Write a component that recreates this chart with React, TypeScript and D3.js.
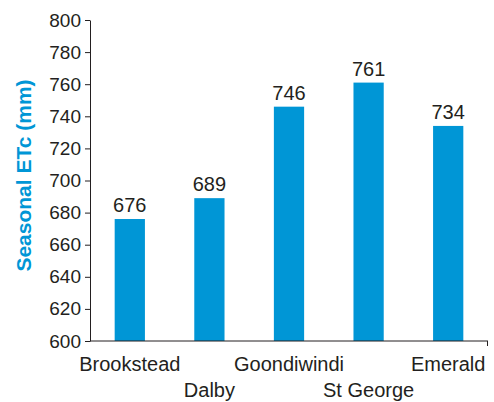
import React, { useRef, useEffect } from 'react';
import * as d3 from 'd3';

const sites = ['Brookstead', 'Dalby', 'Goondiwindi', 'St George', 'Emerald'];
const etcValues = [676, 689, 746, 761, 734];
const yTicks = [600, 620, 640, 660, 680, 700, 720, 740, 760, 780, 800];

const BLUE = '#0096d6';
const INK = '#231f20';
const FONT = '"Liberation Sans", Arial, sans-serif';

const drawChart = (svgEl: SVGSVGElement) => {
    const svg = d3.select(svgEl);
    svg.selectAll('*').remove();

    const margin = { top: 20, right: 6, bottom: 61, left: 90 };
    const width = 494 - margin.left - margin.right;
    const height = 402 - margin.top - margin.bottom;

    const x = d3.scaleBand<string>()
        .domain(sites)
        .range([0, width])
        .paddingInner(0.62)
        .paddingOuter(0.31);

    const y = d3.scaleLinear()
        .domain([600, 800])
        .range([height, 0]);

    const g = svg.append('g')
        .attr('transform', `translate(${margin.left},${margin.top})`);

    // bars
    g.selectAll('.bar')
        .data(etcValues)
        .enter().append('rect')
        .attr('class', 'bar')
        .attr('x', (_, i) => x(sites[i])!)
        .attr('y', d => y(d))
        .attr('width', x.bandwidth())
        .attr('height', d => height - y(d))
        .attr('fill', BLUE);

    // value labels
    g.selectAll('.val')
        .data(etcValues)
        .enter().append('text')
        .attr('class', 'val')
        .attr('x', (_, i) => x(sites[i])! + x.bandwidth() / 2)
        .attr('y', d => y(d) - 7)
        .attr('text-anchor', 'middle')
        .attr('font-family', FONT)
        .attr('font-size', 20)
        .attr('fill', INK)
        .text(d => d);

    // y axis
    const yAxis = g.append('g')
        .call(d3.axisLeft(y).tickValues(yTicks).tickSize(5).tickPadding(4).tickSizeOuter(0));
    yAxis.select('.domain').attr('stroke', INK);
    yAxis.selectAll('.tick line').attr('stroke', INK);
    yAxis.selectAll('.tick text')
        .attr('font-family', FONT)
        .attr('font-size', 19)
        .attr('fill', INK);

    // x axis line with end tick
    g.append('line')
        .attr('x1', 0).attr('x2', width)
        .attr('y1', height).attr('y2', height)
        .attr('stroke', INK);
    g.append('line')
        .attr('x1', width - 0.5).attr('x2', width - 0.5)
        .attr('y1', height).attr('y2', height + 5)
        .attr('stroke', INK);

    // category labels, staggered
    g.selectAll('.cat')
        .data(sites)
        .enter().append('text')
        .attr('class', 'cat')
        .attr('x', d => x(d)! + x.bandwidth() / 2)
        .attr('y', (_, i) => height + (i % 2 === 0 ? 30 : 56))
        .attr('text-anchor', 'middle')
        .attr('font-family', FONT)
        .attr('font-size', 20)
        .attr('fill', INK)
        .text(d => d);

    // y title
    svg.append('text')
        .attr('transform', `translate(31,${margin.top + height / 2 - 5}) rotate(-90)`)
        .attr('text-anchor', 'middle')
        .attr('font-family', FONT)
        .attr('font-weight', 'bold')
        .attr('font-size', 21)
        .attr('fill', BLUE)
        .text('Seasonal ETc (mm)');
};

const App: React.FC = () => {
    const ref = useRef<SVGSVGElement>(null);

    useEffect(() => {
        if (ref.current) drawChart(ref.current);
    }, []);

    return (
        <svg
            ref={ref}
            width={494}
            height={402}
            style={{ position: 'absolute', left: 0, top: 0, background: '#fff' }}
        />
    );
};

export default App;
